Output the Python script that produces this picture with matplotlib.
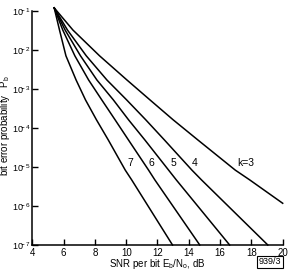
import numpy as np
import matplotlib.pyplot as plt

plt.rcParams["font.family"] = ["Liberation Sans", "DejaVu Sans"]
plt.rcParams["mathtext.fontset"] = "custom"
plt.rcParams["mathtext.rm"] = "Liberation Sans"
plt.rcParams["mathtext.it"] = "Liberation Sans"

# log10 of bit error probability at which each curve was read
log_pb = [-0.92, -1.49, -2.15, -2.77, -3.28, -3.79, -4.31, -5.08, -5.33, -7.0]
log_pb_k3 = [-0.92, -1.49, -2.15, -2.77, -3.28, -3.79, -4.31, -5.08, -5.33, -5.93]

snr_k7 = [5.4, 5.74, 6.15, 6.80, 7.40, 8.10, 8.86, 9.94, 10.35, 12.96]
snr_k6 = [5.4, 5.95, 6.72, 7.60, 8.44, 9.29, 10.15, 11.43, 11.83, 14.70]
snr_k5 = [5.4, 6.10, 7.08, 8.13, 9.18, 10.15, 11.20, 12.71, 13.20, 16.61]
snr_k4 = [5.4, 6.25, 7.45, 8.77, 10.03, 11.25, 12.45, 14.20, 14.81, 19.05]
snr_k3 = [5.4, 6.60, 8.30, 10.05, 11.52, 13.00, 14.59, 16.97, 17.89, 20.0]

labels = ["7", "6", "5", "4", "k=3"]
label_x = [10.24, 11.58, 12.99, 14.39, 17.65]
label_logy = -4.9

x_ticks = [4, 6, 8, 10, 12, 14, 16, 18, 20]
y_exps = [-1, -2, -3, -4, -5, -6, -7]

fig = plt.figure(figsize=(2.92, 2.70), dpi=100)
ax = fig.add_axes([0.1106, 0.0926, 0.8575, 0.8667])

curves = [(snr_k7, log_pb), (snr_k6, log_pb), (snr_k5, log_pb),
          (snr_k4, log_pb), (snr_k3, log_pb_k3)]
for xs, ly in curves:
    ax.plot(xs, 10.0 ** np.array(ly), color="black", lw=1.1, clip_on=False)

for lab, lx in zip(labels, label_x):
    ax.text(lx, 10.0 ** label_logy, lab, ha="center", va="center", fontsize=7.5)

ax.set_yscale("log")
ax.set_xlim(4, 20)
ax.set_ylim(1e-7, 1e-1)
ax.set_xticks(x_ticks)
ax.set_xticklabels([str(t) for t in x_ticks])
ax.set_yticks([10.0 ** e for e in y_exps])
ax.set_yticklabels([r"$\mathregular{10^{\!\!\!%d}}$" % e for e in y_exps])
ax.yaxis.set_minor_locator(plt.NullLocator())
ax.tick_params(direction="in", length=4, width=1, labelsize=7, pad=2)
ax.tick_params(axis="y", pad=1, labelsize=6.5)

for s in ["top", "right"]:
    ax.spines[s].set_visible(False)
for s in ["left", "bottom"]:
    ax.spines[s].set_linewidth(1.1)

ax.set_ylabel(r"bit error probability   P$_\mathregular{b}$", fontsize=7)
ax.yaxis.set_label_coords(-0.081, 0.51)
ax.set_xlabel(r"SNR per bit E$_\mathregular{b}$/N$_\mathregular{o}$, dB", fontsize=7)
ax.xaxis.set_label_coords(0.5, -0.08)
ax.xaxis.label.set_va("center")
fig.text(0.925, 0.03, "939/3", fontsize=6.5, ha="center", va="center",
         bbox=dict(boxstyle="square,pad=0.15", fc="white", ec="black", lw=0.8))

fig.savefig("out.png", dpi=100)
